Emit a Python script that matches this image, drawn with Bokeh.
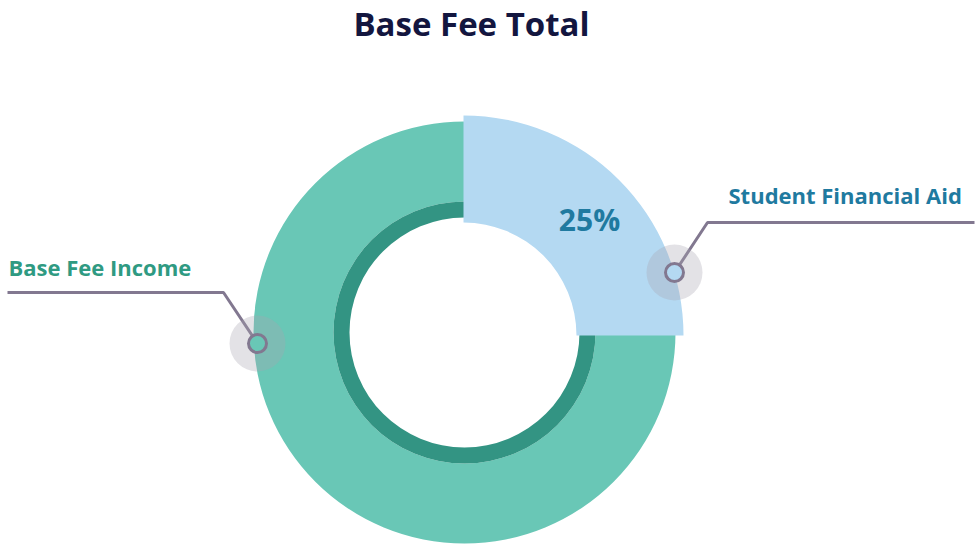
import math
from bokeh.plotting import figure
from bokeh.models import Range1d
from bokeh.core.properties import value
from bokeh.embed import file_html
from bokeh.resources import INLINE

# ---- data ----
title_text = "Base Fee Total"
categories = ["Student Financial Aid", "Base Fee Income"]
values = [25, 75]
pct_labels = ["25%", ""]

# ---- styles / layout ----
W, H = 976, 544
colors = ["#b4d9f2", "#69c7b6"]
label_colors = ["#1f7aa0", "#2f9a82"]
ring_dark = "#339483"
line_col = "#827890"
FONT = value("Open Sans")

def Y(img_y):
    return H - img_y

p = figure(width=W, height=H, output_backend="svg", toolbar_location=None,
           x_range=Range1d(0, W), y_range=Range1d(0, H),
           min_border=0, outline_line_color=None)
p.axis.visible = False
p.grid.visible = False
p.background_fill_color = "white"
p.border_fill_color = "white"

# slice geometry (clockwise from 12 o'clock)
total = sum(values)
angles = []
a = math.pi / 2
for v in values:
    a2 = a - v / total * 2 * math.pi
    angles.append((a2, a))
    a = a2

# main (teal) slice with its dark inner ring
cx_m, cy_m = 464, Y(332)
s, e = angles[1]
p.annular_wedge(x=[cx_m], y=[cy_m], inner_radius=131, outer_radius=211,
                start_angle=[s], end_angle=[e], color=colors[1], line_color=None)
p.annular_wedge(x=[cx_m], y=[cy_m], inner_radius=115, outer_radius=131,
                start_angle=[s], end_angle=[e], color=ring_dark, line_color=None)

# highlighted slice
cx_h, cy_h = 463, Y(335)
s, e = angles[0]
p.annular_wedge(x=[cx_h], y=[cy_h], inner_radius=113, outer_radius=220,
                start_angle=[s], end_angle=[e], color=colors[0], line_color=None)

p.text(x=[589], y=[Y(219)], text=[pct_labels[0]], text_align="center",
       text_baseline="alphabetic", text_font=FONT, text_font_style="bold",
       text_font_size="30px", text_color="#1f7aa0")

# leader markers
# Student Financial Aid
mx1, my1 = 674, Y(272)
p.line(x=[mx1, 707, 974], y=[my1, Y(222), Y(222)], line_color=line_col, line_width=3)
p.circle(x=[mx1], y=[my1], radius=28, fill_color="#a9a5b0", fill_alpha=0.32, line_color=None)
p.circle(x=[mx1], y=[my1], radius=9, fill_color=colors[0], line_color=line_col, line_width=3)
p.text(x=[728], y=[Y(194)], text=[categories[0]], text_align="left",
       text_baseline="alphabetic", text_font=FONT, text_font_style="bold",
       text_font_size="22px", text_color=label_colors[0])

# Base Fee Income
mx2, my2 = 257, Y(343)
p.line(x=[mx2, 223, 7], y=[my2, Y(292), Y(292)], line_color=line_col, line_width=3)
p.circle(x=[mx2], y=[my2], radius=28, fill_color="#a9a5b0", fill_alpha=0.32, line_color=None)
p.circle(x=[mx2], y=[my2], radius=9, fill_color=colors[1], line_color=line_col, line_width=3)
p.text(x=[8], y=[Y(266)], text=[categories[1]], text_align="left",
       text_baseline="alphabetic", text_font=FONT, text_font_style="bold",
       text_font_size="22px", text_color=label_colors[1])

# title
p.text(x=[471], y=[Y(23)], text=[title_text], text_align="center",
       text_baseline="alphabetic", text_font=FONT, text_font_style="bold",
       text_font_size="33px", text_color="#13163f")

open("out.html", "w").write(file_html(p, INLINE))
